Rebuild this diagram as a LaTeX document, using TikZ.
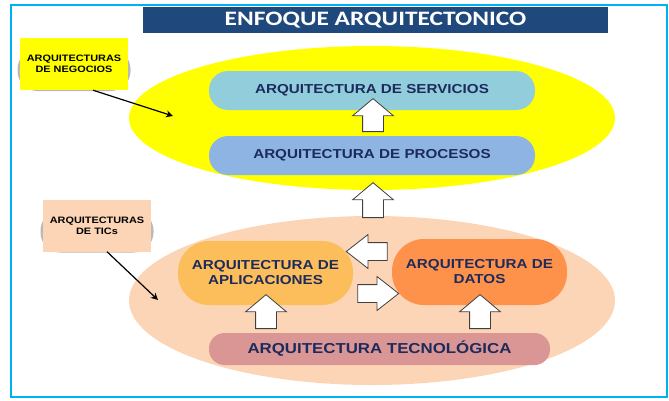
\documentclass[tikz,border=0pt]{standalone}
\usepackage{fontspec}
\setmainfont{Liberation Sans}[FakeStretch=1.17]
\newfontfamily\titlefont{Carlito}[FakeStretch=1.24]
\usepackage{xcolor}
\usetikzlibrary{shapes.geometric, shapes.arrows, arrows.meta, positioning, calc}

\definecolor{frameblue}{RGB}{0,176,240}
\definecolor{titleblue}{RGB}{31,73,125}
\definecolor{bizyellow}{RGB}{255,255,0}
\definecolor{ticpeach}{RGB}{251,213,181}
\definecolor{servblue}{RGB}{146,205,220}
\definecolor{procblue}{RGB}{141,180,226}
\definecolor{appsorange}{RGB}{252,190,90}
\definecolor{datosorange}{RGB}{254,146,74}
\definecolor{tecnored}{RGB}{217,150,148}
\definecolor{navytext}{RGB}{29,42,92}

\begin{document}
\begin{tikzpicture}[x=1pt, y=-1pt,
    pill/.style={inner sep=0pt, align=center, text=navytext, font=\bfseries\fontsize{13}{15}\selectfont},
    blockarr/.style={single arrow, draw=black!75, fill=white, line width=0.8pt, inner sep=0pt,
        text height=10pt, text depth=10pt, single arrow head extend=10pt, single arrow tip angle=100},
    sideblock/.style={text height=8.5pt, text depth=8.5pt, single arrow head extend=8pt, single arrow tip angle=76},
    labelbox/.style={inner sep=0pt, minimum width=108pt, minimum height=52pt, align=center,
        font=\bfseries\fontsize{9.3}{11}\selectfont},
    sombra/.style={fill=gray!55, rounded corners=20pt, minimum width=113pt, minimum height=42pt},
    pointer/.style={-{Stealth[length=7pt, width=7pt]}, line width=1.2pt, black}]
    \useasboundingbox (0,0) rectangle (669,400);
    \draw[frameblue, line width=2pt] (11,5) rectangle (667,397);

    \node[fill=titleblue, minimum width=465pt, minimum height=26pt, inner sep=0pt, text=white,
        font=\titlefont\bfseries\fontsize{20.5}{24}\selectfont] (titulo) at (375.5,20) {ENFOQUE ARQUITECTONICO};

    \node[ellipse, fill=bizyellow, minimum width=486pt, minimum height=144pt, inner sep=0pt] (negocios) at (372,118) {};
    \node[ellipse, fill=ticpeach, minimum width=486pt, minimum height=169pt, inner sep=0pt] (tics) at (372,300.5) {};

    \node[pill, fill=servblue, minimum width=326pt, minimum height=39pt, rounded corners=19pt] (servicios) at (372,90.5) {ARQUITECTURA DE SERVICIOS};
    \node[pill, fill=procblue, minimum width=326pt, minimum height=39pt, rounded corners=19pt] (procesos) at (372,155.5) {ARQUITECTURA DE PROCESOS};
    \node[pill, fill=appsorange, minimum width=175pt, minimum height=64pt, rounded corners=31pt] (aplicaciones) at (265.5,273) {ARQUITECTURA DE\\APLICACIONES};
    \node[pill, fill=datosorange, minimum width=175pt, minimum height=66pt, rounded corners=32pt] (datos) at (479.5,272) {ARQUITECTURA DE\\DATOS};
    \node[pill, fill=tecnored, minimum width=341pt, minimum height=32pt, rounded corners=15.5pt,
        font=\bfseries\fontsize{14.4}{16}\selectfont] (tecnologica) at (379.5,349) {ARQUITECTURA TECNOLÓGICA};

    \node[blockarr, rotate=90, minimum height=33pt] (procserv) at (373,119.5) {};
    \node[blockarr, rotate=90, minimum height=35pt] (ticneg) at (373,204.5) {};
    \node[blockarr, sideblock, rotate=180, minimum height=41pt] (datapp) at (372.5,251.5) {};
    \node[blockarr, sideblock, minimum height=41pt] (appdat) at (372.5,293.5) {};
    \foreach \x/\n in {266/tecapp, 480/tecdat} {
        \node[blockarr, rotate=90, minimum height=34pt] (\n) at (\x,316) {};
    }

    \node[sombra] (negsombra) at (74,70) {};
    \node[labelbox, fill=bizyellow] (negbox) at (74,64) {ARQUITECTURAS\\DE NEGOCIOS};
    \node[sombra] (ticsombra) at (97,231.5) {};
    \node[labelbox, fill=ticpeach] (ticbox) at (97,225.5) {ARQUITECTURAS\\DE TICs};

    \coordinate (negtip) at (173,116);
    \coordinate (tictip) at (158,300);
    \draw[pointer] ([xshift=19pt]negbox.south) -- (negtip);
    \draw[pointer] ([xshift=10pt]ticbox.south) -- (tictip);
\end{tikzpicture}
\end{document}
